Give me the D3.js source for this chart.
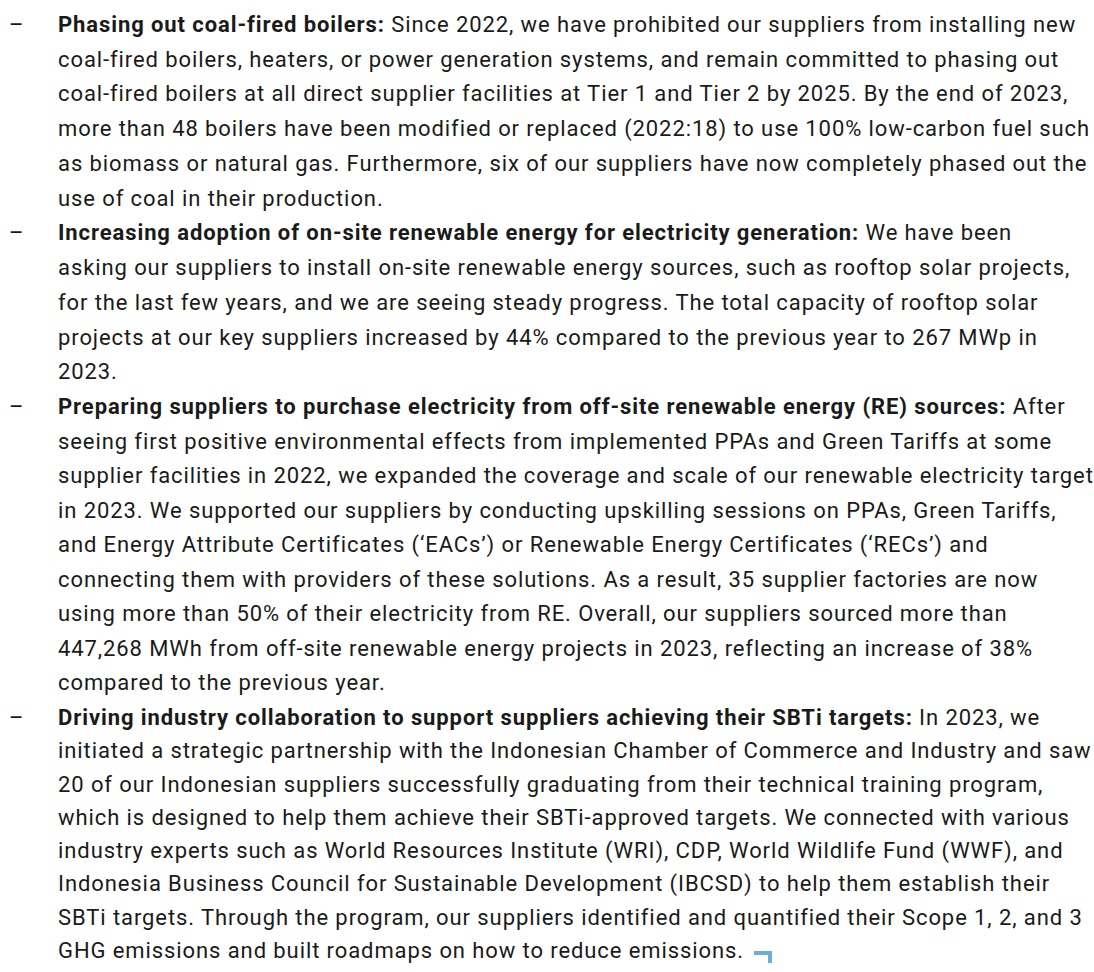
<!DOCTYPE html>
<html>
<head>
<meta charset="utf-8">
<script src="https://cdn.jsdelivr.net/npm/d3@7"></script>
<style>
  body { margin: 0; background: #fff; }
  text { font-family: Roboto, "Noto Sans", sans-serif; fill: #1a1a1a; }
  .head { font-weight: bold; }
</style>
</head>
<body>
<div id="page"></div>
<script>
// page size
var svgWidth = 1094;
var svgHeight = 972;

// bold lead-in of each bullet
var headings = [
  "Phasing out coal-fired boilers:",
  "Increasing adoption of on-site renewable energy for electricity generation:",
  "Preparing suppliers to purchase electricity from off-site renewable energy (RE) sources:",
  "Driving industry collaboration to support suppliers achieving their SBTi targets:"
];

// text lines of each bullet, broken as in the report (first line follows the heading)
var para1 = [
  " Since 2022, we have prohibited our suppliers from installing new",
  "coal-fired boilers, heaters, or power generation systems, and remain committed to phasing out",
  "coal-fired boilers at all direct supplier facilities at Tier 1 and Tier 2 by 2025. By the end of 2023,",
  "more than 48 boilers have been modified or replaced (2022:18) to use 100% low-carbon fuel such",
  "as biomass or natural gas. Furthermore, six of our suppliers have now completely phased out the",
  "use of coal in their production."
];
var para2 = [
  " We have been",
  "asking our suppliers to install on-site renewable energy sources, such as rooftop solar projects,",
  "for the last few years, and we are seeing steady progress. The total capacity of rooftop solar",
  "projects at our key suppliers increased by 44% compared to the previous year to 267 MWp in",
  "2023."
];
var para3 = [
  " After",
  "seeing first positive environmental effects from implemented PPAs and Green Tariffs at some",
  "supplier facilities in 2022, we expanded the coverage and scale of our renewable electricity target",
  "in 2023. We supported our suppliers by conducting upskilling sessions on PPAs, Green Tariffs,",
  "and Energy Attribute Certificates (‘EACs’) or Renewable Energy Certificates (‘RECs’) and",
  "connecting them with providers of these solutions. As a result, 35 supplier factories are now",
  "using more than 50% of their electricity from RE. Overall, our suppliers sourced more than",
  "447,268 MWh from off-site renewable energy projects in 2023, reflecting an increase of 38%",
  "compared to the previous year."
];
var para4 = [
  " In 2023, we",
  "initiated a strategic partnership with the Indonesian Chamber of Commerce and Industry and saw",
  "20 of our Indonesian suppliers successfully graduating from their technical training program,",
  "which is designed to help them achieve their SBTi-approved targets. We connected with various",
  "industry experts such as World Resources Institute (WRI), CDP, World Wildlife Fund (WWF), and",
  "Indonesia Business Council for Sustainable Development (IBCSD) to help them establish their",
  "SBTi targets. Through the program, our suppliers identified and quantified their Scope 1, 2, and 3",
  "GHG emissions and built roadmaps on how to reduce emissions."
];
var paragraphs = [para1, para2, para3, para4];

// line numbers and baselines
var markLines = [0, 11, 20, 27];
var markBaselines = [32, 414, 725, 958];

// flatten to one row per line
var rows = [];
paragraphs.forEach(function(p, pi) {
  p.forEach(function(t, li) {
    rows.push({ para: pi, first: li === 0, text: t });
  });
});

var svg = d3.select("#page")
  .append("svg")
  .attr("width", svgWidth)
  .attr("height", svgHeight);

// line index -> baseline
var yScale = d3.scaleLinear()
  .domain(markLines)
  .range(markBaselines);

var textX = 58;
var fontSize = 22;

// the DIN face of the report runs wider, so spread letters until
// lines 2-4 of the first bullet span about what they do in the report
var fitLines = [para1[1], para1[2], para1[3]];
var fitEnds = [1065, 1063, 1087];
var probe = svg.append("text").attr("font-size", fontSize);
var extra = 0, chars = 0;
fitLines.forEach(function(t, i) {
  probe.text(t);
  extra += fitEnds[i] - textX - probe.node().getComputedTextLength();
  chars += t.length;
});
var spacing = extra / chars;
probe.remove();

var lines = svg.selectAll(".line")
  .data(rows)
  .enter()
  .append("text")
  .attr("class", "line")
  .attr("x", textX)
  .attr("y", (d, i) => yScale(i))
  .attr("font-size", fontSize)
  .attr("letter-spacing", spacing);

lines.filter(d => d.first)
  .append("tspan")
  .attr("class", "head")
  .text(d => headings[d.para]);

lines.append("tspan")
  .text(d => d.text);

// dash bullets
svg.selectAll(".dash")
  .data(rows.filter(d => d.first))
  .enter()
  .append("text")
  .attr("class", "dash")
  .attr("x", 9)
  .attr("y", d => yScale(rows.indexOf(d)))
  .attr("font-size", fontSize)
  .text("\u2013");

// end mark after the last line
var lastLine = lines.filter((d, i) => i === rows.length - 1).node();
var endX = textX + lastLine.getComputedTextLength() + 10;
var endY = yScale(rows.length - 1) - 5;
svg.append("path")
  .attr("d", `M${endX},${endY} H${endX + 16} V${endY + 10}`)
  .attr("fill", "none")
  .attr("stroke", "#68b0d8")
  .attr("stroke-width", 4);
</script>
</body>
</html>
